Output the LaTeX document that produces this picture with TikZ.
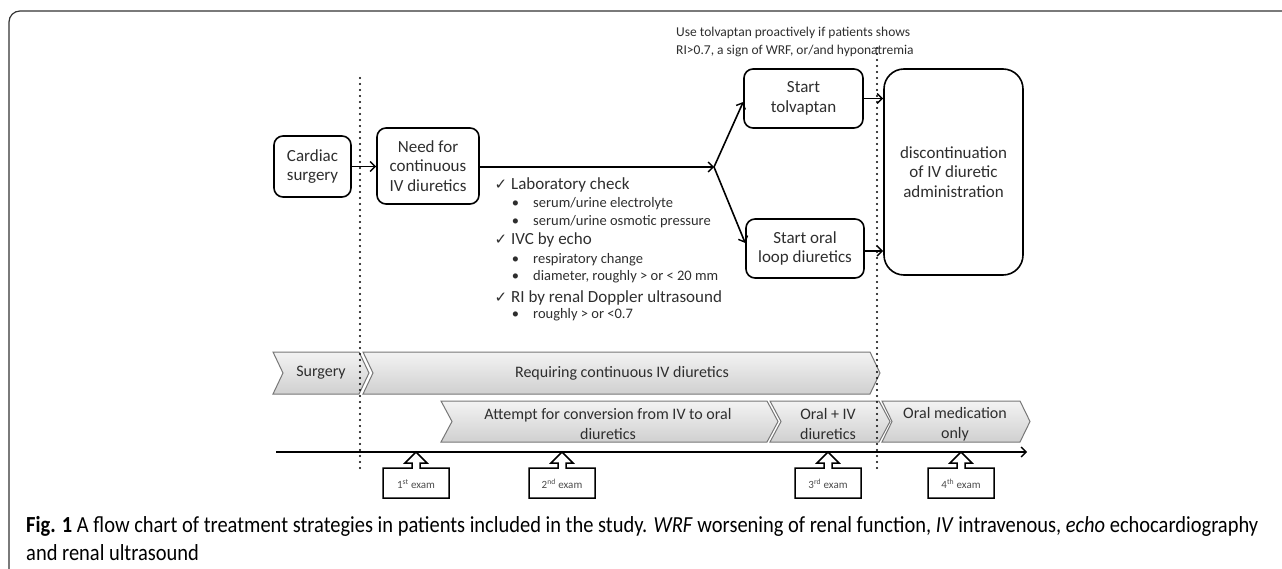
\documentclass[tikz,border=0pt]{standalone}
\usepackage{fontspec}
\setmainfont{Carlito}
\newfontfamily\dejavu{DejaVu Sans}
\usetikzlibrary{arrows.meta}
\definecolor{txt}{HTML}{2E2E2E}
\definecolor{chevline}{HTML}{777777}
\definecolor{chevtop}{HTML}{F3F3F3}
\definecolor{chevbot}{HTML}{D0D0D0}
\newsavebox\capbox
\newlength\capwd
\begin{document}
\sbox\capbox{\fontsize{23}{27}\selectfont\textbf{Fig. 1} A flow chart of treatment strategies in patients included in the study. \textit{WRF} worsening of renal function, \textit{IV} intravenous, \textit{echo} echocardiography}%
\setlength\capwd{\wd\capbox}%
\pgfmathsetmacro\capscale{1232/\capwd}%
\begin{tikzpicture}[x=1pt,y=-1pt,
  box/.style={draw=black, line width=1.6pt, rounded corners=9pt, align=center, text=txt,
    font=\fontsize{17}{19.5}\selectfont, inner sep=0pt},
  conn/.style={line width=1.6pt, -{Straight Barb[length=5pt,width=10pt,line width=1.4pt]}},
  dotline/.style={line width=2.4pt, line cap=round, dash pattern=on 0pt off 6pt, black},
  chev/.style={draw=chevline, line width=1pt, top color=chevtop, bottom color=chevbot},
  chevtext/.style={text=txt, font=\fontsize{16}{20}\selectfont, align=center, inner sep=0pt},
  chk/.style={anchor=base west, text=txt, font=\fontsize{17}{19.5}\selectfont, inner sep=0pt},
  sub/.style={anchor=base west, text=txt, font=\fontsize{14.5}{17}\selectfont, inner sep=0pt},
  note/.style={anchor=base west, text=txt, font=\fontsize{13.5}{17}\selectfont, inner sep=0pt},
  exam/.style={draw=black, line width=1.5pt, fill=white},
  examtext/.style={text=black!70, font=\fontsize{11}{12}\selectfont, inner sep=0pt},
  captext/.style={anchor=base west, inner sep=0pt, text=black}
]
\useasboundingbox (0,0) rectangle (1282,569);

% frame
\draw[line width=1.2pt, black!80, rounded corners=11pt] (9,575) -- (9,11) -- (1290,11);

% top note
\node[note] (note1) at (676,37) {Use tolvaptan proactively if patients shows};
\node[note] (note2) at (676,55) {RI>0.7, a sign of WRF, or/and hyponatremia};

% flow boxes
\node[box, minimum width=77pt, minimum height=61pt] (cardiac) at (312.5,166.5) {Cardiac\\surgery};
\node[box, minimum width=102pt, minimum height=76pt] (need) at (428,166) {Need for\\continuous\\IV diuretics};
\node[box, minimum width=119pt, minimum height=59pt] (tolv) at (803.5,98.5) {Start\\tolvaptan};
\node[box, minimum width=118pt, minimum height=59pt] (oral) at (805,248.5) {Start oral\\loop diuretics};
\node[box, rounded corners=20pt, minimum width=139pt, minimum height=206pt] (disc) at (953.5,172) {discontinuation\\of IV diuretic\\administration};

\coordinate (branch) at (714,167);
\draw[conn] (cardiac.east) -- (cardiac.east -| need.west);
\draw[conn] (need.east |- branch) -- (branch);
\draw[conn] (branch) -- ([yshift=-3.5pt]tolv.west);
\draw[conn] (branch) -- ([yshift=5.5pt]oral.west);
\draw[conn] (tolv.east) -- (tolv.east -| disc.west);
\draw[conn] ([yshift=-2.5pt]oral.east) -- ([yshift=-2.5pt]oral.east -| disc.west);

% checklist
\node[chk] (c1) at (511,190) {\makebox[0pt][r]{\dejavu\fontsize{15}{15}\selectfont ✓\hspace{4pt}}Laboratory check};
\node[sub] (s1) at (533,208) {\makebox[0pt][r]{•\hspace{14pt}}serum/urine electrolyte};
\node[sub] (s2) at (533,226) {\makebox[0pt][r]{•\hspace{14pt}}serum/urine osmotic pressure};
\node[chk] (c2) at (511,245) {\makebox[0pt][r]{\dejavu\fontsize{15}{15}\selectfont ✓\hspace{4pt}}IVC by echo};
\node[sub] (s3) at (533,264) {\makebox[0pt][r]{•\hspace{14pt}}respiratory change};
\node[sub] (s4) at (533,281) {\makebox[0pt][r]{•\hspace{14pt}}diameter, roughly > or < 20 mm};
\node[chk] (c3) at (511,302) {\makebox[0pt][r]{\dejavu\fontsize{15}{15}\selectfont ✓\hspace{4pt}}RI by renal Doppler ultrasound};
\node[sub] (s5) at (533,318) {\makebox[0pt][r]{•\hspace{14pt}}roughly > or <0.7};

% chevrons row 1
\path[chev] (273,352) -- (359,352) -- (369,373) -- (359,394) -- (273,394) -- (283,373) -- cycle;
\path[chev] (363,352) -- (870,352) -- (880,373) -- (870,394) -- (363,394) -- (373,373) -- cycle;
\node[chevtext] (surg) at (321,373) {Surgery};
\node[chevtext] (req) at (622,373) {Requiring continuous IV diuretics};

% chevrons row 2
\path[chev] (441,401) -- (767,401) -- (778,421.5) -- (767,442) -- (441,442) -- (452,421.5) -- cycle;
\path[chev] (770,401) -- (879,401) -- (890,421.5) -- (879,442) -- (770,442) -- (781,421.5) -- cycle;
\path[chev] (882,401) -- (1020,401) -- (1030,421.5) -- (1020,442) -- (882,442) -- (892,421.5) -- cycle;
\node[chevtext] (att) at (608,424) {Attempt for conversion from IV to oral\\diuretics};
\node[chevtext] (oiv) at (828,424) {Oral + IV\\diuretics};
\node[chevtext] (omo) at (955,424) {Oral medication\\only};

% timeline
\coordinate (t0) at (276,452);
\coordinate (t1) at (1027,452);
\draw[conn] (t0) -- (t1);

% exam callouts
\foreach \cx/\nm/\lab in {416/e1/{1\textsuperscript{st} exam}, 562/e2/{2\textsuperscript{nd} exam}, 828/e3/{3\textsuperscript{rd} exam}, 961/e4/{4\textsuperscript{th} exam}}{
  \draw[exam] (\cx-33,468) -- (\cx-4,468) -- (\cx-4,463) -- (\cx-11,463) -- (\cx,452) -- (\cx+11,463) -- (\cx+4,463) -- (\cx+4,468) -- (\cx+33,468) -- (\cx+33,498) -- (\cx-33,498) -- cycle;
  \node[examtext] (\nm) at (\cx,484) {\lab};
}

% dotted separators
\draw[dotline] (360,78) -- (360,470);
\draw[dotline] (877,48) -- (877,470);

% caption
\node[captext] (cap1) at (26,532) {\scalebox{\capscale}[1]{\usebox\capbox}};
\node[captext] (cap2) at (26,560) {\scalebox{\capscale}[1]{\fontsize{23}{27}\selectfont and renal ultrasound}};
\end{tikzpicture}
\end{document}
